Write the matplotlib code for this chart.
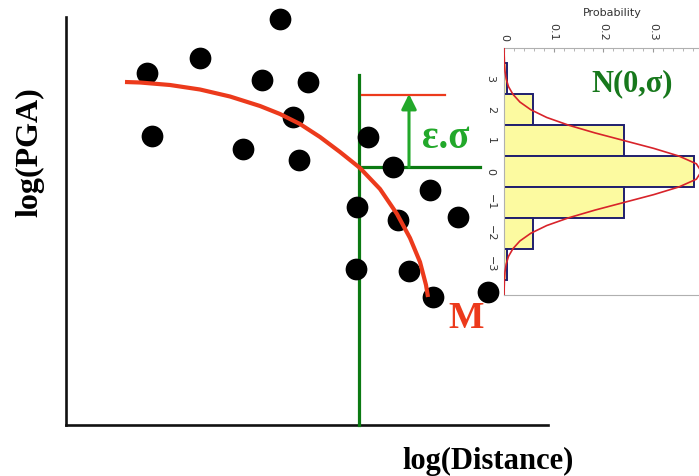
import matplotlib
matplotlib.use("Agg")
import matplotlib.pyplot as plt
from matplotlib.ticker import MultipleLocator

# ---------------- data ----------------
# main scatter: distance (px units along axis) and log(PGA) (px rows, downward)
obs_dist = [280, 200, 147, 262, 308, 293, 152, 243, 299, 368, 393,
            430, 357, 398, 458, 356, 409, 433, 488]
obs_pga = [19, 58, 73, 80, 82, 117, 136, 149, 160, 137, 167,
           190, 207, 220, 217, 269, 271, 297, 292]

# median model curve M
model_dist = [125, 140, 170, 200, 230, 260, 280, 300, 320, 340, 360, 380,
              397, 410, 420, 426, 428]
model_pga = [82, 82.5, 85, 89.5, 96.5, 106, 114, 124, 137, 152, 168, 189,
             214, 238, 262, 285, 297]

# site distance and residual levels
site_dist = 359
median_level = 167
obs_level = 95

# inset histogram of residuals
bins = [3, 2, 1, 0, -1, -2, -3]
probs = [0.006, 0.058, 0.241, 0.382, 0.241, 0.058, 0.006]
xticks = [0, 0.1, 0.2, 0.3, 0.4]
xtick_labels = ["0", "0.1", "0.2", "0.3", "0.4"]
yticks = [3, 2, 1, 0, -1, -2, -3]

# normal density curve
pdf_y = [-4, -3.75, -3.5, -3.25, -3, -2.75, -2.5, -2.25, -2, -1.75, -1.5,
         -1.25, -1, -0.75, -0.5, -0.25, 0, 0.25, 0.5, 0.75, 1, 1.25, 1.5,
         1.75, 2, 2.25, 2.5, 2.75, 3, 3.25, 3.5, 3.75, 4]
pdf_p = [0.0001, 0.0004, 0.0009, 0.002, 0.0044, 0.009, 0.018, 0.032, 0.054,
         0.086, 0.130, 0.183, 0.242, 0.301, 0.352, 0.387, 0.397, 0.387,
         0.352, 0.301, 0.242, 0.183, 0.130, 0.086, 0.054, 0.032, 0.018,
         0.009, 0.0044, 0.002, 0.0009, 0.0004, 0.0001]

# ---------------- figure ----------------
W, H = 699, 476
fig = plt.figure(figsize=(W / 100, H / 100), dpi=100)
fig.patch.set_facecolor("white")

x0, x1, ytop, ybot = 66, 548, 17, 425
ax = fig.add_axes([x0 / W, (H - ybot) / H, (x1 - x0) / W, (ybot - ytop) / H])
ax.set_xlim(x0, x1)
ax.set_ylim(ybot, ytop)
for s in ["top", "right"]:
    ax.spines[s].set_visible(False)
for s in ["left", "bottom"]:
    ax.spines[s].set_linewidth(1.9)
    ax.spines[s].set_color("#111111")
ax.set_xticks([])
ax.set_yticks([])
ax.patch.set_alpha(0)

serif = "Liberation Serif"
dark_green = "#0b7a12"
light_green = "#22a82a"
red = "#ec3a1c"

# scatter
ax.scatter(obs_dist, obs_pga, s=245, color="black", zorder=4, clip_on=False,
           linewidths=0)
# model curve
ax.plot(model_dist, model_pga, color=red, lw=3.0, zorder=5,
        solid_capstyle="butt", solid_joinstyle="round", clip_on=False)

# site vertical line & residual markers
ax.plot([site_dist, site_dist], [75, ybot], color=dark_green, lw=2.3, zorder=3,
        clip_on=False)
ax.plot([site_dist, 480], [median_level, median_level], color=dark_green,
        lw=2.3, zorder=3, clip_on=False)
ax.plot([362, 445], [obs_level, obs_level], color=red, lw=1.6, zorder=3,
        clip_on=False)
ax.annotate("", xy=(409, obs_level - 1), xytext=(409, median_level),
            arrowprops=dict(arrowstyle="-|>,head_length=0.9,head_width=0.45",
                            color=light_green, lw=2.2, shrinkA=0, shrinkB=0),
            zorder=6, annotation_clip=False)
ax.text(446, 139, "ε.σ", color=light_green, fontsize=28, fontweight="bold",
        family=serif, ha="center", va="center", zorder=7, clip_on=False)
ax.text(466, 319, "M", color=red, fontsize=27, fontweight="bold",
        family=serif, ha="center", va="center", zorder=7, clip_on=False)

# axis labels
fig.text(30 / W, 1 - 152 / H, "log(PGA)", rotation=90, fontsize=23,
         fontweight="bold", family=serif, ha="center", va="center")
fig.text(488 / W, 1 - 461 / H, "log(Distance)", fontsize=22,
         fontweight="bold", family=serif, ha="center", va="center")

# ---------------- inset ----------------
il, ir, it, ib = 504, 720, 48, 295
ax2 = fig.add_axes([il / W, (H - ib) / H, (ir - il) / W, (ib - it) / H])
ax2.set_zorder(5)
ax2.patch.set_facecolor("white")
px_per_01 = 49.7
ax2.set_xlim(0, (ir - il) / px_per_01 * 0.1)
ax2.set_ylim(-4, 4)
ax2.barh(bins, probs, height=1.0, color="#fcfaa0", edgecolor="#1f1f6e",
         linewidth=1.4, zorder=2)
ax2.plot(pdf_p, pdf_y, color="#d8232a", lw=1.2, zorder=3)
for s in ax2.spines.values():
    s.set_color("#b0b0b0")
    s.set_linewidth(0.8)

ax2.xaxis.tick_top()
ax2.xaxis.set_label_position("top")
ax2.set_xticks(xticks)
ax2.set_xticklabels(xtick_labels, rotation=-90, fontsize=8, color="#333333")
ax2.xaxis.set_minor_locator(MultipleLocator(0.02))
ax2.tick_params(axis="x", which="major", direction="in", length=3,
                color="#999999", pad=5)
ax2.tick_params(axis="x", which="minor", direction="in", length=2,
                color="#aaaaaa")
ax2.set_xlabel("Probability", fontsize=8, color="#333333", labelpad=5)

ax2.set_yticks(yticks)
ax2.set_yticklabels([str(v).replace("-", "\u2212") for v in yticks],
                    rotation=-90, fontsize=8, color="#333333", va="center")
ax2.tick_params(axis="y", length=0, pad=6)

ax2.text(0.258, 2.85, "N(0,σ)", color="#17781c", fontsize=22,
         fontweight="bold", family=serif, ha="center", va="center", zorder=4)

fig.savefig("out.png", dpi=100)
